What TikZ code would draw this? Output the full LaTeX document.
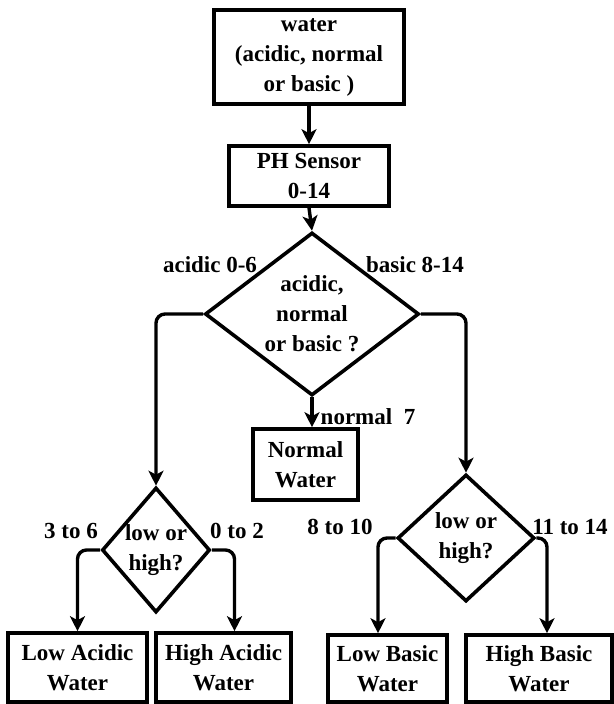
\documentclass[tikz,border=0pt]{standalone}
\usepackage{fontspec}
\setmainfont{LiberationSerif}[Extension=.ttf, UprightFont=*-Regular, BoldFont=*-Bold]
\usetikzlibrary{shapes.geometric,arrows.meta}
\begin{document}
\begin{tikzpicture}[x=1pt,y=-1pt,
  every node/.style={font=\rmfamily\fontsize{23}{30}\selectfont\bfseries, inner sep=0pt},
  box/.style={draw, line width=3.6pt, rectangle, align=center},
  dec/.style={draw, line width=3.6pt, diamond, align=center},
  lbl/.style={},
  conn/.style={line width=3.4pt, rounded corners=9pt, -{Stealth[length=15pt,width=15pt,inset=4pt]}}]
\useasboundingbox (0,0) rectangle (613,704);
\node[box, minimum width=190, minimum height=94] (water) at (309,57) {water\\(acidic, normal\\or basic )};
\node[box, minimum width=160, minimum height=60] (ph) at (309,176) {PH Sensor\\0-14};
\node[dec, minimum width=214, minimum height=163, shape aspect=1.3] (dia) at (312,314) {acidic,\\normal\\or basic ?};
\node[box, minimum width=105, minimum height=71] (normal) at (305.5,464.5) {Normal\\Water};
\node[dec, minimum width=108, minimum height=125, shape aspect=0.9] (dl) at (156,550) {low or\\high?};
\node[dec, minimum width=137, minimum height=127, shape aspect=1.1] (dr) at (466,538) {low or\\high?};
\node[box, minimum width=139, minimum height=69] (la) at (77.5,667.5) {Low Acidic\\Water};
\node[box, minimum width=135, minimum height=69] (ha) at (223.5,667.5) {High Acidic\\Water};
\node[box, minimum width=119, minimum height=67] (lb) at (387.5,668.5) {Low Basic\\Water};
\node[box, minimum width=146, minimum height=67] (hb) at (539,668.5) {High Basic\\Water};
\node[lbl] (l1) at (210,265) {acidic 0-6};
\node[lbl] (l2) at (415,265) {basic 8-14};
\node[lbl] (l3) at (368,417) {normal\enspace7};
\node[lbl] (l4) at (71,531) {3 to 6};
\node[lbl] (l5) at (237,531) {0 to 2};
\node[lbl] (l6) at (340,527) {8 to 10};
\node[lbl] (l7) at (570,527) {11 to 14};
\coordinate (haIn) at ([xshift=11]ha.north);
\coordinate (lbIn) at ([xshift=-9.5]lb.north);
\coordinate (hbIn) at ([xshift=8]hb.north);
\coordinate (nIn) at (dia.south |- normal.north);
\draw[conn] (water.south) -- (ph.north);
\draw[conn] (ph.south) -- (dia.north);
\draw[conn] (dia.west) -| (dl.north);
\draw[conn] (dia.east) -| (dr.north);
\draw[conn] (dia.south) -- (nIn);
\draw[conn] (dl.west) -| (la.north);
\draw[conn] (dl.east) -| (haIn);
\draw[conn] (dr.west) -| (lbIn);
\draw[conn] (dr.east) -| (hbIn);
\end{tikzpicture}
\end{document}
